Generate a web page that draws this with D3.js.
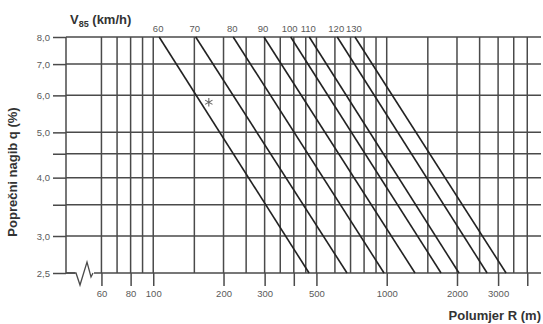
<!DOCTYPE html>
<html>
<head>
<meta charset="utf-8">
<script src="https://cdn.jsdelivr.net/npm/d3@7"></script>
<style>
  body { margin: 0; background: #fff; }
  svg { display: block; font-family: "Liberation Sans", Arial, sans-serif; }
</style>
</head>
<body>
<div id="chart"></div>
<script>
// Design speed V85 (km/h) and radius R (m) where each line meets q = 8,0 and q = 2,5
const speeds = [60, 70, 80, 90, 100, 110, 120, 130];
const radiusAtTop = [106, 152, 220, 298, 388, 466, 614, 731];
const radiusAtBottom = [465, 676, 974, 1322, 1709, 2040, 2692, 3245];
const qTop = 8.0;
const qBottom = 2.5;

// Grid and tick values
const radiusGrid = [60, 70, 80, 90, 100, 150, 200, 250, 300, 350, 400, 450, 500,
    600, 700, 800, 900, 1000, 1500, 2000, 2500, 3000, 3500, 4000];
const radiusTicks = [60, 80, 100, 200, 300, 400, 500, 1000, 2000, 3000, 4000];
const radiusLabels = [60, 80, 100, 200, 300, 500, 1000, 2000, 3000];
const slopeGrid = [2.5, 3.0, 3.5, 4.0, 4.5, 5.0, 6.0, 7.0, 8.0];
const slopeLabels = [2.5, 3.0, 4.0, 5.0, 6.0, 7.0, 8.0];

// Marked example point
const examplePoint = [{R: 173, q: 5.8}];

// Plot size
const W = 543, H = 324;
const margin = {top: 37, right: 2, bottom: 51, left: 66};
const width = W - margin.left - margin.right;
const height = H - margin.top - margin.bottom;

// Log scales (left part of the R axis is broken)
const x = d3.scaleLog().domain([42.3, 4580]).range([0, width]);
const y = d3.scaleLog().domain([qBottom, qTop]).range([height, 0]);

const svg = d3.select("#chart")
    .append("svg")
    .attr("width", W)
    .attr("height", H);

const g = svg.append("g")
    .attr("transform", `translate(${margin.left}, ${margin.top})`);

const gridColor = "#4a4a4a";

// Vertical grid lines
g.append("g")
    .selectAll("line")
    .data(radiusGrid)
    .join("line")
    .attr("x1", d => x(d)).attr("x2", d => x(d))
    .attr("y1", 0).attr("y2", height)
    .attr("stroke", gridColor)
    .attr("stroke-width", 1.5);

// Left border
g.append("line")
    .attr("x1", 0).attr("x2", 0)
    .attr("y1", 0).attr("y2", height)
    .attr("stroke", gridColor)
    .attr("stroke-width", 1.5);

// Horizontal grid lines
g.append("g")
    .selectAll("line")
    .data(slopeGrid)
    .join("line")
    .attr("x1", 0).attr("x2", width)
    .attr("y1", d => y(d)).attr("y2", d => y(d))
    .attr("stroke", gridColor)
    .attr("stroke-width", 1.5);

// X axis ticks and labels
const xAxis = g.append("g")
    .attr("transform", `translate(0, ${height})`)
    .call(d3.axisBottom(x)
        .tickValues(radiusTicks)
        .tickSize(13)
        .tickPadding(4)
        .tickFormat(d => radiusLabels.includes(d) ? d : ""));

// Y axis ticks and labels
const yAxis = g.append("g")
    .call(d3.axisLeft(y)
        .tickValues(slopeGrid)
        .tickSize(13)
        .tickPadding(3)
        .tickFormat(d => slopeLabels.includes(d) ? d3.format(".1f")(d).replace(".", ",") : ""));

[xAxis, yAxis].forEach(a => {
    a.select(".domain").remove();
    a.selectAll(".tick line").attr("stroke", gridColor).attr("stroke-width", 1.5);
    a.selectAll(".tick text")
        .attr("fill", "#5a5a5a")
        .style("font-size", "9.5px")
        .style("font-family", "'Liberation Sans', Arial, sans-serif");
});

// Axis break on the R axis
const zx = x(42.3);
const breakPts = [[zx, 0], [zx + 10, 0], [zx + 14, 12], [zx + 21, -11], [zx + 25, 4], [zx + 27, 0]];
g.append("rect")
    .attr("x", zx + 9).attr("y", height - 3)
    .attr("width", 19).attr("height", 6)
    .attr("fill", "#fff");
g.append("path")
    .attr("transform", `translate(0, ${height})`)
    .attr("d", d3.line()(breakPts))
    .attr("fill", "none")
    .attr("stroke", gridColor)
    .attr("stroke-width", 1.3);

// Speed lines
const speedData = speeds.map((v, i) => ({v, r0: radiusAtTop[i], r1: radiusAtBottom[i]}));

g.append("g")
    .selectAll("line")
    .data(speedData)
    .join("line")
    .attr("x1", d => x(d.r0)).attr("y1", y(qTop))
    .attr("x2", d => x(d.r1)).attr("y2", y(qBottom))
    .attr("stroke", "#222")
    .attr("stroke-width", 1.6);

g.append("g")
    .selectAll("text")
    .data(speedData)
    .join("text")
    .attr("x", d => x(d.r0) - 1)
    .attr("y", -5)
    .attr("text-anchor", "middle")
    .attr("fill", "#5a5a5a")
    .style("font-size", "9.5px")
    .text(d => d.v);

// Example point marker
g.append("g")
    .selectAll("path")
    .data(examplePoint)
    .join("path")
    .attr("transform", d => `translate(${x(d.R)}, ${y(d.q)})`)
    .attr("d", d3.symbol(d3.symbolAsterisk, 50))
    .attr("fill", "none")
    .attr("stroke", "#666")
    .attr("stroke-width", 1.1);

// Titles
const vTitle = svg.append("text")
    .attr("x", 70)
    .attr("y", 24)
    .attr("fill", "#333")
    .style("font-size", "13px")
    .style("font-weight", "bold");
vTitle.append("tspan").text("V");
vTitle.append("tspan").attr("dy", 3).style("font-size", "9px").text("85");
vTitle.append("tspan").attr("dy", -3).text(" (km/h)");

svg.append("text")
    .attr("x", 541)
    .attr("y", 320)
    .attr("text-anchor", "end")
    .attr("fill", "#333")
    .style("font-size", "13px")
    .style("font-weight", "bold")
    .text("Polumjer R (m)");

svg.append("text")
    .attr("transform", "translate(17, 172) rotate(-90)")
    .attr("text-anchor", "middle")
    .attr("fill", "#333")
    .style("font-size", "13px")
    .style("font-weight", "bold")
    .text("Poprečni nagib q (%)");
</script>
</body>
</html>
